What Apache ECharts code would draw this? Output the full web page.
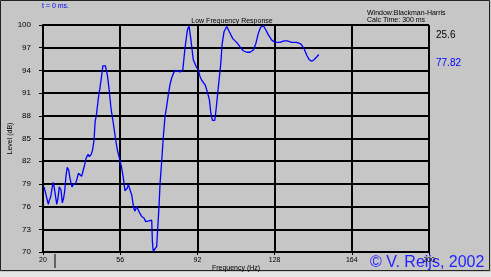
<!DOCTYPE html>
<html><head><meta charset="utf-8">
<script src="https://cdn.jsdelivr.net/npm/echarts@6/dist/echarts.min.js"></script>
<style>html,body{margin:0;padding:0;background:#c6c6c6}#c{width:491px;height:277px}</style>
</head><body><div id="c"></div>
<script>
const freqs = [20.5,21.4,22.5,22.9,23.6,24.2,24.8,25.4,26.1,26.4,27.0,27.6,28.0,28.4,29.0,29.6,30.1,30.7,31.3,32.0,32.6,33.5,34.1,35.1,35.7,36.5,37.3,38.0,38.8,39.4,40.1,41.0,41.6,42.5,43.2,43.8,44.3,45.0,45.8,46.6,47.4,47.9,49.1,50.0,50.8,51.7,52.8,53.9,54.8,55.8,56.7,57.5,58.2,59.2,59.8,60.6,61.4,62.3,62.9,63.7,64.4,65.2,66.0,67.1,67.9,68.6,69.4,70.7,71.0,71.4,72.2,73.0,73.5,74.1,74.6,75.4,76.1,76.9,77.7,78.4,79.2,80.0,80.8,81.6,83.9,85.2,86.2,87.3,88.1,88.9,90.1,91.4,92.4,93.2,94.0,95.6,96.6,97.6,98.2,99.0,100.1,100.7,101.3,102.2,102.9,103.5,104.4,105.7,106.9,108.5,110.3,111.9,113.4,115.0,116.5,118.1,119.3,120.4,121.5,122.8,124.0,125.1,126.7,128.2,130.5,132.4,133.9,136.0,138.3,140.2,141.7,143.0,144.2,145.3,146.4,147.7,148.6];
const levels = [78.6,78.6,76.3,76.8,77.3,78.4,79.2,78.2,76.9,76.3,77.1,78.6,78.7,78.2,76.5,77.1,78.0,80.0,81.2,80.8,79.7,78.6,78.9,79.0,79.5,80.4,80.5,80.0,80.1,81.5,82.4,82.9,82.6,82.9,83.6,84.8,87.2,88.3,90.3,91.8,93.4,94.6,94.6,93.4,91.6,89.0,87.0,84.8,83.3,82.2,81.1,79.7,78.1,78.4,78.9,78.9,77.5,75.8,75.4,76.0,76.2,75.1,74.7,74.5,74.0,73.9,74.1,74.2,71.4,70.1,70.2,70.7,73.1,76.0,79.1,82.2,85.2,87.9,89.3,90.7,92.1,93.0,93.6,94.0,93.8,94.1,96.9,99.3,99.9,98.2,95.4,94.5,94.1,93.2,92.7,92.1,91.2,90.1,88.5,87.4,87.4,88.8,90.5,93.0,94.9,97.4,99.1,99.8,99.1,98.2,97.7,97.1,96.6,96.4,96.4,96.7,97.6,98.9,99.7,99.9,99.3,98.7,98.0,97.7,97.7,97.9,97.9,97.7,97.7,97.5,96.9,96.0,95.4,95.2,95.4,95.8,96.1];
const xTicks = [20, 56, 92, 128, 164, 200];
const yTicks = [70, 73, 76, 79, 82, 85, 88, 91, 94, 97, 100];
const cursorFreq = 25.6;
const cursorLevel = 77.82;
const titleText = 'Low Frequency Response';
const xName = 'Frequency (Hz)';
const yName = 'Level (dB)';
const timeText = 't = 0 ms.';
const windowText = 'Window:Blackman-Harris';
const calcText = 'Calc Time: 300 ms';
const copyText = '\u00a9 V. Reijs, 2002';

const FONT = 'Liberation Sans';
const chart = echarts.init(document.getElementById('c'), null, {renderer: 'canvas'});
const data = freqs.map((f, i) => [f, levels[i]]);
const opt = {
  backgroundColor: '#c6c6c6',
  animation: false,
  grid: {left: 43, right: 62, top: 25, bottom: 25, containLabel: false, outerBoundsMode: 'none'},
  xAxis: {
    type: 'value', min: xTicks[0], max: xTicks[xTicks.length-1], interval: xTicks[1]-xTicks[0],
    name: xName, nameLocation: 'middle', nameGap: 16, nameMoveOverlap: false,
    nameTextStyle: {fontFamily: FONT, fontSize: 7, color: '#000', verticalAlign: 'middle'},
    axisLine: {show: true, lineStyle: {color: '#000', width: 2}},
    axisTick: {show: true, length: 3, lineStyle: {color: '#000', width: 1}},
    axisLabel: {fontFamily: FONT, fontSize: 7, color: '#000', margin: 5},
    splitLine: {show: true, lineStyle: {color: '#000', width: 2}}
  },
  yAxis: {
    type: 'value', min: yTicks[0], max: yTicks[yTicks.length-1], interval: yTicks[1]-yTicks[0],
    name: yName, nameLocation: 'middle', nameGap: 33, nameRotate: 90, nameMoveOverlap: false,
    nameTextStyle: {fontFamily: FONT, fontSize: 7, color: '#000', verticalAlign: 'middle'},
    axisLine: {show: true, lineStyle: {color: '#000', width: 2}},
    axisTick: {show: true, length: 4, lineStyle: {color: '#000', width: 1}},
    axisLabel: {fontFamily: FONT, fontSize: 8, color: '#000', margin: 12},
    splitLine: {show: true, lineStyle: {color: '#000', width: 2}}
  },
  series: [{
    type: 'line', data: data, showSymbol: false, smooth: false,
    lineStyle: {color: '#0000ff', width: 1.3}
  }]
};
chart.setOption(opt);
const cp = chart.convertToPixel({gridIndex: 0}, [cursorFreq, yTicks[0]]);
chart.setOption({
  graphic: [
    {type: 'rect', shape: {x: 0.5, y: 0.5, width: 489, height: 270}, style: {fill: 'none', stroke: '#222', lineWidth: 1}, silent: true},
    {type: 'rect', shape: {x: 0, y: 272, width: 491, height: 5}, style: {fill: '#e4e4e4'}, silent: true},
    {type: 'line', shape: {x1: cp[0], y1: cp[1] + 2, x2: cp[0], y2: cp[1] + 16}, style: {stroke: '#000', lineWidth: 1}},
    {type: 'text', style: {text: titleText, x: 232, y: 21, fill: '#000', font: '7px ' + FONT, textAlign: 'center', textVerticalAlign: 'middle'}},
    {type: 'text', style: {text: timeText, x: 42, y: 6, fill: '#0000ff', font: '7px ' + FONT, textVerticalAlign: 'middle'}},
    {type: 'text', style: {text: windowText, x: 367, y: 13, fill: '#000', font: '7px ' + FONT, textVerticalAlign: 'middle'}},
    {type: 'text', style: {text: calcText, x: 367, y: 20.5, fill: '#000', font: '7px ' + FONT, textVerticalAlign: 'middle'}},
    {type: 'text', style: {text: String(cursorFreq), x: 436, y: 35, fill: '#000', font: '10px ' + FONT, textVerticalAlign: 'middle'}},
    {type: 'text', style: {text: String(cursorLevel), x: 436, y: 63, fill: '#0000ff', font: '10px ' + FONT, textVerticalAlign: 'middle'}},
    {type: 'text', style: {text: copyText, x: 370, y: 263, fill: '#2222ff', font: '16px ' + FONT, textVerticalAlign: 'middle'}}
  ]
});
</script></body></html>
